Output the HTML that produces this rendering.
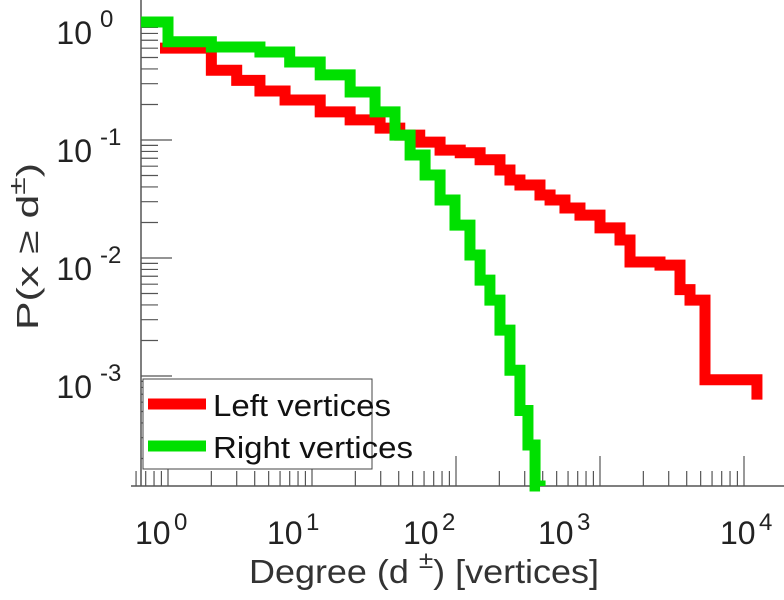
<!DOCTYPE html>
<html><head><meta charset="utf-8"><style>
body{margin:0;background:#fff;}
svg{display:block;font-family:"Liberation Sans",sans-serif;}
</style></head><body>
<svg id="chart" width="784" height="600" viewBox="0 0 784 600">
<g id="axes"></g>
<g id="series"></g>
<g>
<rect x="143" y="379" width="229" height="90" fill="#fff" stroke="#444" stroke-width="1"/>
<line x1="148" y1="404" x2="206" y2="404" stroke="#ff0000" stroke-width="11"/>
<text x="213" y="416" font-size="31" fill="#111" textLength="178" lengthAdjust="spacingAndGlyphs">Left vertices</text>
<line x1="148" y1="446" x2="206" y2="446" stroke="#00e000" stroke-width="11"/>
<text x="213" y="458" font-size="31" fill="#111" textLength="200" lengthAdjust="spacingAndGlyphs">Right vertices</text>
</g>
<text x="249" y="583" font-size="33" fill="#333" textLength="350" lengthAdjust="spacingAndGlyphs">Degree (d   <tspan dy="-15" font-size="24">±</tspan><tspan dy="15">) [vertices]</tspan></text>
<text transform="translate(38,330) rotate(-90)" font-size="31" fill="#333" textLength="167" lengthAdjust="spacingAndGlyphs">P(x ≥ d<tspan dy="-13" font-size="23">±</tspan><tspan dy="13">)</tspan></text>
</svg>
<script>
const leftDeg=[1,2,3,4.35,6.5,11.4,18.4,29.7,40.7,56,77.5,107,147,202,237,278,383,450,571,726,1000,1377,1616,2610,3594,4217,5360,12300];
const leftP=[0.6,0.39,0.32,0.26,0.218,0.173,0.148,0.126,0.11,0.096,0.082,0.078,0.068,0.0557,0.0458,0.0416,0.0342,0.031,0.0265,0.0231,0.018,0.0142,0.00925,0.0087,0.0054,0.0044,0.00093,0.00063];
const rightDeg=[0.65,1,2,4.35,7,11.4,18.4,27.4,37.7,48,61,77.5,98.4,125,147,172,202,237,278,316,354];
const rightP=[1,0.68,0.614,0.557,0.458,0.356,0.255,0.173,0.11,0.0746,0.0505,0.031,0.019,0.0106,0.0065,0.0044,0.00245,0.00112,0.00051,0.00026,0.000117];
const xTickLabels=["0","1","2","3","4"];
const yTickLabels=["0","-1","-2","-3"];
const NS="http://www.w3.org/2000/svg";
const X0=168,XD=144,Y0=22,YD=118,AXL=141,AXB=486;
const xLabelLeft=[135,267,403,538,720];
function xs(d){return X0+XD*Math.log10(d);}
function ys(p){return Y0-YD*Math.log10(p);}
function mk(t,a,parent){const e=document.createElementNS(NS,t);for(const k in a)e.setAttribute(k,a[k]);parent.appendChild(e);return e;}
const axes=document.getElementById('axes'),series=document.getElementById('series');
let l=mk('line',{x1:AXL,y1:0,x2:AXL,y2:AXB,stroke:'#555','stroke-width':1.5},axes);


l=mk('line',{x1:131,y1:AXB,x2:784,y2:AXB,stroke:'#555','stroke-width':1.5},axes);


for(let e=-1;e<=4;e++){for(let m=1;m<=9;m++){const x=X0+XD*(e+Math.log10(m));if(x<AXL-12||x>784)continue;
 const len=m===1?30:15;
 const t=mk('line',{x1:x,y1:AXB,x2:x,y2:AXB-len,stroke:'#555','stroke-width':1.2},axes);
 
 }}
xTickLabels.forEach((s,i)=>{const x=xLabelLeft[i];
 const t=mk('text',{x:x,y:544,'font-size':32,fill:'#222'},axes);t.textContent='10';
 
 
 const s2=mk('text',{x:x+39,y:530,'font-size':24,fill:'#222'},axes);s2.textContent=s;
 
 });
for(let e=0;e>=-4;e--){for(let m=1;m<=9;m++){const y=Y0-YD*(e+Math.log10(m));if(y<0||y>AXB)continue;
 const len=m===1?31:17;
 const t=mk('line',{x1:AXL,y1:y,x2:AXL+len,y2:y,stroke:'#555','stroke-width':1.2},axes);
 
 }}
yTickLabels.forEach((s,i)=>{const y=Y0+YD*i;
 const ex=mk('text',{x:100,y:y+5,'font-size':24,fill:'#222'},axes);ex.textContent=s;
 
 
 const t=mk('text',{x:92,y:y+22,'font-size':32,fill:'#222','text-anchor':'end'},axes);t.textContent='10';
 
 });
(function(){let pts=[];for(let i=0;i<leftDeg.length;i++){const x=xs(leftDeg[i]);
 if(i===0){pts.push([x-8,ys(leftP[0])]);}
 else{pts.push([x,ys(leftP[i-1])]);pts.push([x,ys(leftP[i])]);}}
 const pl=mk('polyline',{points:pts.map(q=>q.join(',')).join(' '),fill:'none',stroke:'#ff0000','stroke-width':11},series);
 
 })();
(function(){let pts=[];for(let i=0;i<rightDeg.length;i++){const x=xs(rightDeg[i]);
 if(i>0)pts.push([x,ys(rightP[i-1])]);pts.push([x,ys(rightP[i])]);}
 const last=pts[pts.length-1];pts.push([last[0]+5,last[1]]);pts.push([last[0]+5,AXB]);
 const pl=mk('polyline',{points:pts.map(q=>q.join(',')).join(' '),fill:'none',stroke:'#00e000','stroke-width':11},series);
 
 })();
</script>
</body></html>
